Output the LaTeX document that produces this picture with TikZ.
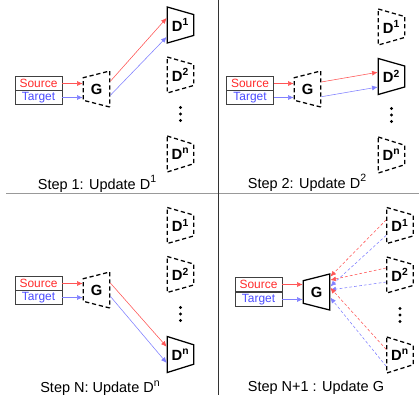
\documentclass[tikz,border=0pt]{standalone}
\usepackage{fontspec}
\setmainfont{Liberation Sans}
\usetikzlibrary{arrows.meta, shapes.geometric, calc}
\definecolor{srcred}{HTML}{FF2A2A}
\definecolor{tgtblue}{HTML}{4A4AFF}
\newcommand{\capsup}[1]{\raisebox{0.85ex}{\fontsize{7.5}{8}\selectfont #1}}

\begin{document}
\begin{tikzpicture}[
  x=0.25mm, y=-0.25mm,
  inbox/.style={draw=black!75, semithick, minimum width=1.175cm,
                minimum height=0.35cm, inner sep=0pt,
                font=\fontsize{8.5}{9}\selectfont},
  net/.style={draw, trapezium, trapezium stretches=true,
              trapezium left angle=75, trapezium right angle=75,
              minimum width=0.9cm, minimum height=0.66cm,
              line width=0.9pt, inner sep=0pt,
              font=\bfseries\fontsize{10.5}{12}\selectfont},
  gen/.style={net, shape border rotate=90},
  disc/.style={net, shape border rotate=270},
  idle/.style={dash pattern=on 3pt off 2pt},
  caption/.style={font=\fontsize{10.3}{12}\selectfont},
  redline/.style={-{Latex[length=4pt,width=3.5pt]}, srcred!80},
  blueline/.style={-{Latex[length=4pt,width=3.5pt]}, tgtblue!70},
  back/.style={dash pattern=on 2pt off 1.5pt}
]
  \useasboundingbox (0,0) rectangle (419,400);

  % dividers
  \draw[gray!80, line width=0.7pt] (6,193.5) -- (419,193.5);
  \draw[black!80, line width=0.7pt] (218,0) -- (218,395);

  % Step 1
  \node[inbox, text=srcred] (src1) at (38.5,83.5) {Source};
  \node[inbox, text=tgtblue] (tgt1) at (38.5,97.5) {Target};
  \node[gen, idle] (gen1) at (96.5,89) {G};
  \node[disc] (dA1) at (180.5,25) {D\textsuperscript{1}};
  \node[disc, idle] (dB1) at (180.5,75) {D\textsuperscript{2}};
  \node[disc, idle] (dN1) at (180.5,154) {D\textsuperscript{n}};
  \foreach \k in {-6.5,0,6.5}
    \fill (180.5,114+\k) circle (1.6);
  \node[caption] (cap1) at (97,184) {Step 1: Update D\capsup{1}};

  \draw[redline] (src1.east) -- (src1.east -| gen1.west);
  \draw[blueline] (tgt1.east) -- (tgt1.east -| gen1.west);
  \draw[redline] ([yshift=5.5pt]gen1.east) -- ([yshift=5pt]dA1.west);
  \draw[blueline] ([yshift=-4.5pt]gen1.east) -- ([yshift=-8.5pt]dA1.west);

  % Step 2
  \node[inbox, text=srcred] (src2) at (250,83.5) {Source};
  \node[inbox, text=tgtblue] (tgt2) at (250,97.5) {Target};
  \node[gen, idle] (gen2) at (307.5,89) {G};
  \node[disc, idle] (dA2) at (391.5,27) {D\textsuperscript{1}};
  \node[disc] (dB2) at (391.5,76.5) {D\textsuperscript{2}};
  \node[disc, idle] (dN2) at (391.5,155) {D\textsuperscript{n}};
  \foreach \k in {-6.5,0,6.5}
    \fill (391.5,115+\k) circle (1.6);
  \node[caption] (cap2) at (307,183) {Step 2: Update D\capsup{2}};

  \draw[redline] (src2.east) -- (src2.east -| gen2.west);
  \draw[blueline] (tgt2.east) -- (tgt2.east -| gen2.west);
  \draw[redline] ([yshift=5pt]gen2.east) -- ([yshift=3pt]dB2.west);
  \draw[blueline] ([yshift=-5.5pt]gen2.east) -- ([yshift=-7.5pt]dB2.west);

  % Step N
  \node[inbox, text=srcred] (src3) at (38.5,283.5) {Source};
  \node[inbox, text=tgtblue] (tgt3) at (38.5,297.5) {Target};
  \node[gen, idle] (gen3) at (96.5,290) {G};
  \node[disc, idle] (dA3) at (180.5,225.5) {D\textsuperscript{1}};
  \node[disc, idle] (dB3) at (180.5,274.5) {D\textsuperscript{2}};
  \node[disc] (dN3) at (180.5,354.5) {D\textsuperscript{n}};
  \foreach \k in {-6.5,0,6.5}
    \fill (180.5,314+\k) circle (1.6);
  \node[caption] (cap3) at (100,388) {Step N: Update D\capsup{n}};

  \draw[redline] (src3.east) -- (src3.east -| gen3.west);
  \draw[blueline] (tgt3.east) -- (tgt3.east -| gen3.west);
  \draw[redline] ([yshift=5pt]gen3.east) -- ([yshift=5.5pt]dN3.west);
  \draw[blueline] ([yshift=-4.5pt]gen3.east) -- ([yshift=-6pt]dN3.west);

  % Step N+1
  \node[inbox, text=srcred] (src4) at (258.5,284.5) {Source};
  \node[inbox, text=tgtblue] (tgt4) at (258.5,299.5) {Target};
  \node[gen] (gen4) at (316.5,292) {G};
  \node[disc, idle] (dA4) at (400,225.5) {D\textsuperscript{1}};
  \node[disc, idle] (dB4) at (400,275) {D\textsuperscript{2}};
  \node[disc, idle] (dN4) at (400,355) {D\textsuperscript{n}};
  \foreach \k in {-6.5,0,6.5}
    \fill (400,315+\k) circle (1.6);
  \node[caption] (cap4) at (316,388) {Step N+1 : Update G};

  \draw[redline] (src4.east) -- (src4.east -| gen4.west);
  \draw[blueline] (tgt4.east) -- (tgt4.east -| gen4.west);
  \draw[redline, back] ([yshift=4pt]dA4.west) -- ([yshift=11pt]gen4.east);
  \draw[blueline, back] ([yshift=-7pt]dA4.west) -- ([yshift=4pt]gen4.east);
  \draw[redline, back] ([yshift=5pt]dB4.west) -- ([yshift=8.5pt]gen4.east);
  \draw[blueline, back] ([yshift=-5pt]dB4.west) -- ([yshift=1.5pt]gen4.east);
  \draw[redline, back] ([yshift=4pt]dN4.west) -- ([yshift=3pt]gen4.east);
  \draw[blueline, back] ([yshift=-8pt]dN4.west) -- ([yshift=-4pt]gen4.east);
\end{tikzpicture}
\end{document}
